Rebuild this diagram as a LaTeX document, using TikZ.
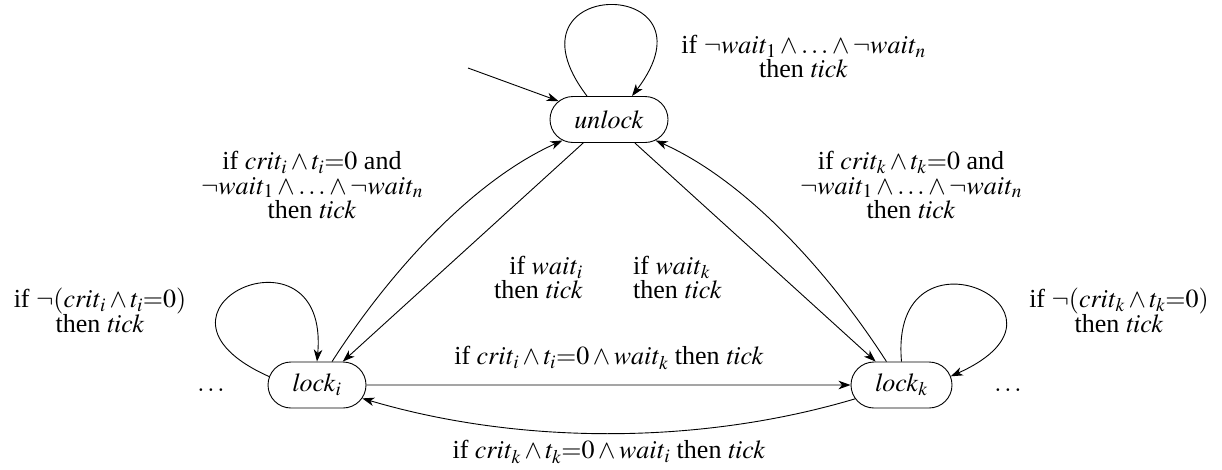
\documentclass[tikz,border=0pt]{standalone}
\usepackage{mathptmx}
\usepackage[no-math]{fontspec}
\setmainfont{Liberation Serif}
\usetikzlibrary{shapes.misc,arrows.meta}
\begin{document}
\begin{tikzpicture}[x=1pt,y=1pt,
  every node/.style={font=\fontsize{26}{24.5}\selectfont},
  state/.style={draw, rounded rectangle, minimum height=46pt, inner sep=0pt, line width=0.9pt},
  arr/.style={line width=0.9pt, -{Stealth[length=12pt,width=8.5pt,inset=3.5pt]}},
  lbl/.style={align=center, inner sep=0pt}]
\useasboundingbox (0,0) rectangle (1222,-469);
\node[state, minimum width=118pt] (unlock) at (609,-119.5) {$\mathit{unlock}$};
\node[state, minimum width=98pt] (locki) at (317,-385) {$\mathit{lock}_i$};
\node[state, minimum width=101pt] (lockk) at (901.5,-385) {$\mathit{lock}_k$};
\coordinate (init) at (468,-68);
\node[inner sep=0pt, anchor=base] (dotsl) at (211,-391) {$\ldots$};
\node[inner sep=0pt, anchor=base] (dotsr) at (1008,-391) {$\ldots$};
% edges
\draw[arr] (init) -- (unlock);
\draw[arr] ([xshift=-22pt]unlock.north) .. controls (495,25) and (724,25) .. ([xshift=23pt]unlock.north);
\draw[arr] (unlock) -- (locki);
\draw[arr] (unlock) -- (lockk);
\draw[arr] (locki) .. controls (385,-279) and (468,-183) .. (unlock);
\draw[arr] (lockk) .. controls (833.5,-279) and (750.5,-183) .. (unlock);
\draw[arr] (locki.170) .. controls (120,-310) and (330,-215) .. (locki.north);
\draw[arr] (lockk.north) .. controls (888.5,-215) and (1098.5,-310) .. (lockk.10);
\draw[arr] (locki) -- (lockk);
\draw[arr] (lockk) .. controls (700,-445) and (520,-445) .. (locki);
% labels
\node[lbl] (ltop) at (803.5,-56.5) {if $\neg\mathit{wait}_1\wedge\ldots\wedge\neg\mathit{wait}_n$\\ then $\mathit{tick}$};
\node[lbl] (lleft) at (312,-185) {if $\mathit{crit}_i\wedge t_i{=}0$ and\\ $\neg\mathit{wait}_1\wedge\ldots\wedge\neg\mathit{wait}_n$\\ then $\mathit{tick}$};
\node[lbl] (lright) at (911,-185) {if $\mathit{crit}_k\wedge t_k{=}0$ and\\ $\neg\mathit{wait}_1\wedge\ldots\wedge\neg\mathit{wait}_n$\\ then $\mathit{tick}$};
\node[lbl, align=right, anchor=east] (lwi) at (583,-277.5) {if $\mathit{wait}_i$\\ then $\mathit{tick}$};
\node[lbl, align=left, anchor=west] (lwk) at (633,-277.5) {if $\mathit{wait}_k$\\ then $\mathit{tick}$};
\node[lbl] (lli) at (100,-310.5) {if $\neg(\mathit{crit}_i\wedge t_i{=}0)$\\ then $\mathit{tick}$};
\node[lbl] (llk) at (1119,-310.5) {if $\neg(\mathit{crit}_k\wedge t_k{=}0)$\\ then $\mathit{tick}$};
\node[lbl] (lh) at (609,-358) {if $\mathit{crit}_i\wedge t_i{=}0\wedge\mathit{wait}_k$ then $\mathit{tick}$};
\node[lbl] (lb) at (609,-452) {if $\mathit{crit}_k\wedge t_k{=}0\wedge\mathit{wait}_i$ then $\mathit{tick}$};
\end{tikzpicture}
\end{document}
